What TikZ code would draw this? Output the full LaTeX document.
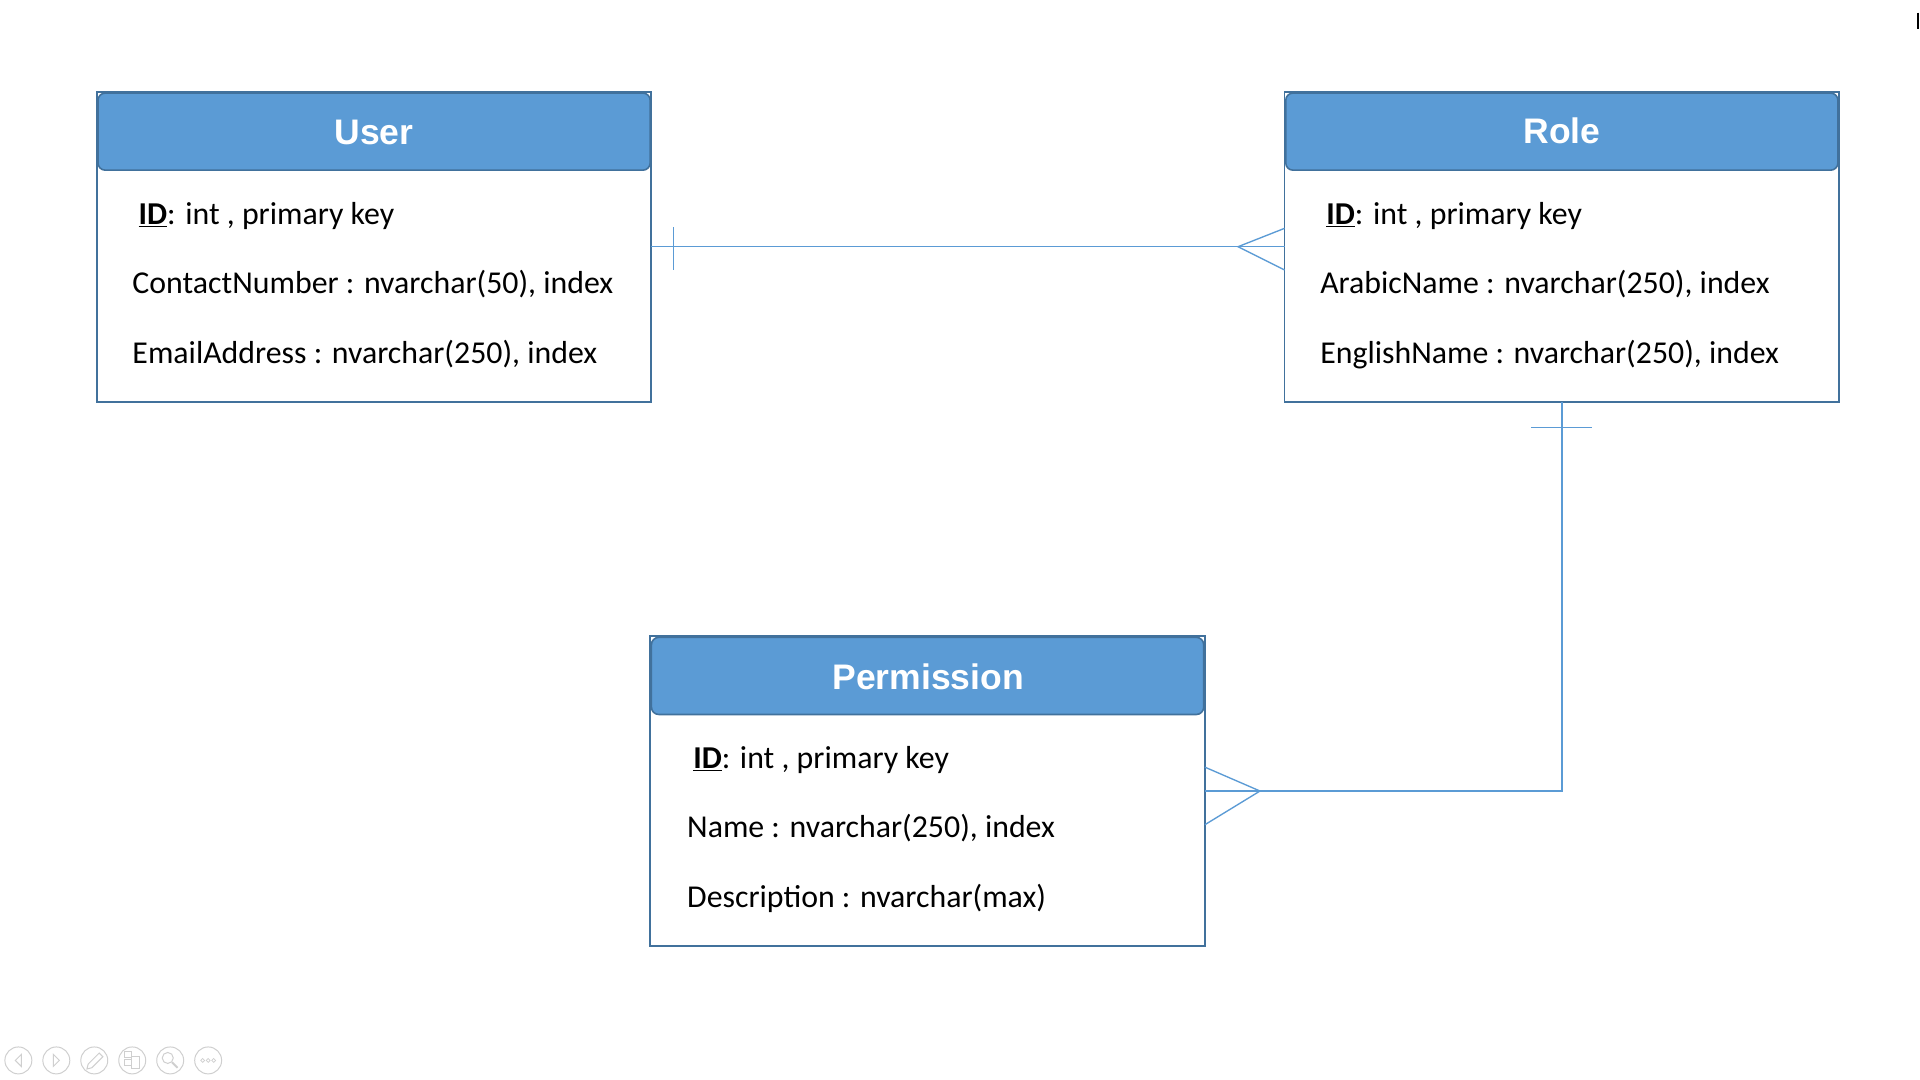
\documentclass[tikz,border=0pt]{standalone}
\usepackage{fontspec}
\setmainfont{Carlito}
\newfontfamily\headfont{Liberation Sans}
\usetikzlibrary{calc}
\definecolor{hdrfill}{HTML}{5B9BD5}
\definecolor{hdrline}{HTML}{41719C}
\definecolor{connline}{HTML}{5B9BD5}
\definecolor{icongray}{HTML}{CFCFCF}
\newcommand{\pkid}{\underline{\textbf{ID}}}
\begin{document}
\begin{tikzpicture}[x=1pt,y=-1pt,
  tablebox/.style={draw=hdrline, line width=1.6pt, fill=white, minimum width=453pt, minimum height=253pt, inner sep=0pt, outer sep=0pt, anchor=north west},
  tablehead/.style={draw=hdrline, line width=1.3pt, fill=hdrfill, rounded corners=6pt, minimum width=451pt, minimum height=63pt, inner sep=0pt, outer sep=0pt, anchor=north west},
  headtext/.style={text=white, font=\headfont\bfseries\fontsize{29}{34}\selectfont, anchor=base, inner sep=0pt},
  rowtext/.style={font=\fontsize{26}{31}\selectfont, anchor=base west, inner sep=0pt, text=black},
  conn/.style={draw=connline, line width=1.1pt},
  icon/.style={draw=icongray, line width=0.8pt}
]
\useasboundingbox (0,0) rectangle (1568,882);
\fill[white] (0,0) rectangle (1568,882);

% ---- User table
\node[tablebox] (user) at (79,75) {};
\node[tablehead] (userhead) at (80,76) {};
\node[headtext] (usertitle) at (305.5,118) {User};
\node[rowtext] (user1) at (113,183.5) {\pkid: int , primary key};
\node[rowtext] (user2) at (108,239.5) {ContactNumber : nvarchar(50), index};
\node[rowtext] (user3) at (108,296.5) {EmailAddress : nvarchar(250), index};

% ---- Role table
\node[tablebox] (role) at (1049,75) {};
\node[tablehead] (rolehead) at (1050,76) {};
\node[headtext] (roletitle) at (1275.5,117.5) {Role};
\node[rowtext] (role1) at (1083,183.5) {\pkid: int , primary key};
\node[rowtext] (role2) at (1078,239.5) {ArabicName : nvarchar(250), index};
\node[rowtext] (role3) at (1078,296.5) {EnglishName : nvarchar(250), index};

% ---- Permission table
\node[tablebox] (perm) at (531,519.5) {};
\node[tablehead] (permhead) at (532,520.5) {};
\node[headtext] (permtitle) at (758,563) {Permission};
\node[rowtext] (perm1) at (566,628) {\pkid: int , primary key};
\node[rowtext] (perm2) at (561,684) {Name : nvarchar(250), index};
\node[rowtext] (perm3) at (561,741) {Description : nvarchar(max)};

% ---- User -- Role (one to many)
\draw[conn] (user.east) -- (role.west);
\draw[conn] ($(user.east)+(18,-16)$) -- ($(user.east)+(18,19)$);
\draw[conn] ($(role.west)+(0,-15)$) -- ($(role.west)+(-38,0)$) -- ($(role.west)+(0,19)$);

% ---- Role -- Permission (one to many)
\draw[conn] (role.south) |- (perm.east);
\draw[conn] ($(role.south)+(-25,21)$) -- ($(role.south)+(25,21)$);
\draw[conn] ($(perm.east)+(0,-19.5)$) -- ($(perm.east)+(45,0)$) -- ($(perm.east)+(0,27.5)$);

% ---- slide show controls
\foreach \i in {0,...,5} {\draw[icon] (15+31*\i,866) circle (11);}
\draw[icon] (17.5,861) -- (12.5,866) -- (17.5,871) -- cycle;
\draw[icon] (43.5,861) -- (48.5,866) -- (43.5,871) -- cycle;
\draw[icon] (71,873) -- (72,869) -- (81,860) -- (84,863) -- (75,872) -- cycle;
\draw[icon] (102,859) rectangle (107,864);
\draw[icon] (102,865) rectangle (107,870);
\draw[icon] (107.5,863) rectangle (114,873);
\draw[icon] (137,864) circle (4.5);
\draw[icon, line width=1.6pt] (140.5,867.5) -- (145,872);
\foreach \d in {-4.5,0,4.5} {\draw[icon, line width=0.6pt] (170+\d,866) circle (1.6);}

% ---- small mark at top right
\draw[black, line width=1.5pt] (1566.5,10.4) -- (1566.5,24);
\end{tikzpicture}
\end{document}
